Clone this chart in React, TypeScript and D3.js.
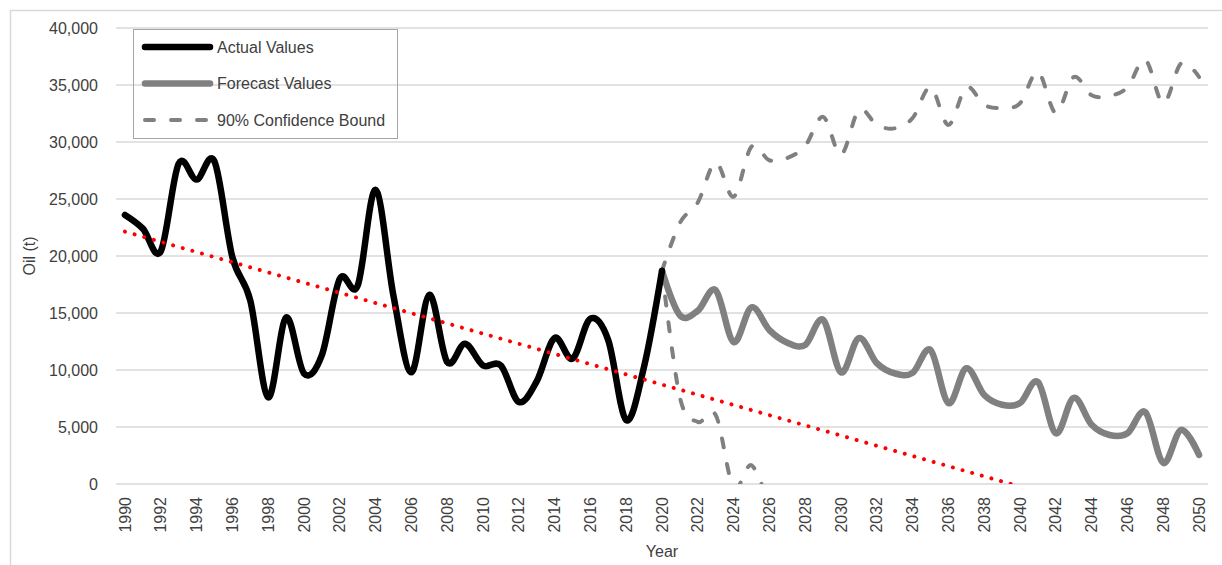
import React from "react";
import * as d3 from "d3";

// years on the category axis
const years: number[] = d3.range(1990, 2051);
const actualYears: number[] = d3.range(1990, 2021);
const forecastYears: number[] = d3.range(2020, 2051);
const lowerYears: number[] = d3.range(2020, 2027);

// Oil (t)
const actualValues: number[] = [
  23600, 22400, 20400, 28100, 26700, 28300, 19900, 16100, 7600, 14600,
  9700, 11300, 18000, 17400, 25800, 16500, 9800, 16600, 10700, 12300,
  10400, 10400, 7200, 9000, 12800, 11000, 14500, 12600, 5600, 10300,
  18700,
];

const forecastValues: number[] = [
  18700, 14800, 15200, 17000, 12450, 15500, 13500, 12400, 12200, 14400,
  9800, 12800, 10600, 9700, 9750, 11750, 7100, 10150, 7800, 6950,
  7100, 8950, 4450, 7550, 5200, 4300, 4450, 6300, 1850, 4750,
  2550,
];

const upperValues: number[] = [
  18700, 22900, 24700, 28200, 25200, 29600, 28400, 28600, 29650, 32200,
  28900, 32800, 31500, 31200, 32100, 34800, 31500, 34800, 33250, 33000,
  33400, 36150, 32550, 35700, 34100, 34050, 34800, 37200, 33400, 36900,
  35700,
];

const lowerValues: number[] = [18700, 7600, 5450, 6050, -300, 1650, -2000];

const yTicks: number[] = [0, 5000, 10000, 15000, 20000, 25000, 30000, 35000, 40000];
const xTickYears: number[] = years.filter((y) => (y - 1990) % 2 === 0);

const legendItems = [
  { label: "Actual Values", color: "#000000", width: 6.5, dash: null as string | null },
  { label: "Forecast Values", color: "#808080", width: 6.5, dash: null as string | null },
  { label: "90% Confidence Bound", color: "#808080", width: 4, dash: "9 17" },
];

const W = 1222;
const H = 565;
const plot = { left: 116, right: 1208, top: 28, bottom: 484 };
const font = "'Liberation Sans', Arial, sans-serif";
const textColor = "#404040";

const App: React.FC = () => {
  const x = d3
    .scalePoint<number>()
    .domain(years)
    .range([plot.left, plot.right])
    .padding(0.5);

  const y = d3.scaleLinear().domain([0, 40000]).range([plot.bottom, plot.top]);

  const smooth = d3
    .line<[number, number]>()
    .x((d) => x(d[0]) as number)
    .y((d) => y(d[1]))
    .curve(d3.curveCardinal.tension(0));

  const pairs = (ys: number[], vs: number[]): [number, number][] =>
    ys.map((yr, i) => [yr, vs[i]]);

  // linear trend of the actual values, projected to 2040
  const ts = actualYears.map((yr) => yr - 1990);
  const meanT = d3.mean(ts) as number;
  const meanV = d3.mean(actualValues) as number;
  const slope =
    d3.sum(ts, (t, i) => (t - meanT) * (actualValues[i] - meanV)) /
    d3.sum(ts, (t) => (t - meanT) ** 2);
  const intercept = meanV - slope * meanT;
  const trendYears = [1990, 2040];
  const trendPath = d3
    .line<number>()
    .x((yr) => x(yr) as number)
    .y((yr) => y(intercept + slope * (yr - 1990)))(trendYears);

  return (
    <div style={{ position: "absolute", left: 0, top: 0 }}>
      <svg width={W} height={H} style={{ display: "block", background: "#fff" }}>
        <defs>
          <clipPath id="plotClip">
            <rect x={plot.left} y={0} width={plot.right - plot.left + 20} height={plot.bottom} />
          </clipPath>
        </defs>

        {/* chart area border */}
        <rect x={10.5} y={10.5} width={1230} height={570} fill="none" stroke="#d9d9d9" strokeWidth={1.5} />

        {/* gridlines */}
        {yTicks.map((t) => (
          <line key={t} x1={plot.left} x2={plot.right} y1={y(t)} y2={y(t)} stroke="#d9d9d9" strokeWidth={1.5} />
        ))}

        {/* y tick labels */}
        {yTicks.map((t) => (
          <text
            key={"yl" + t}
            x={98}
            y={y(t)}
            dy="0.35em"
            textAnchor="end"
            fontFamily={font}
            fontSize={16}
            fill={textColor}
          >
            {d3.format(",")(t)}
          </text>
        ))}

        {/* x tick labels */}
        {xTickYears.map((yr) => (
          <text
            key={"xl" + yr}
            transform={`translate(${x(yr)},497) rotate(-90)`}
            dy="0.35em"
            textAnchor="end"
            fontFamily={font}
            fontSize={16}
            fill={textColor}
          >
            {yr}
          </text>
        ))}

        {/* axis titles */}
        <text x={(plot.left + plot.right) / 2} y={557} textAnchor="middle" fontFamily={font} fontSize={16} fill={textColor}>
          Year
        </text>
        <text
          transform={`translate(35,${(plot.top + plot.bottom) / 2}) rotate(-90)`}
          textAnchor="middle"
          fontFamily={font}
          fontSize={16}
          fill={textColor}
        >
          Oil (t)
        </text>

        <g clipPath="url(#plotClip)">
          <path
            d={smooth(pairs(forecastYears, upperValues)) || ""}
            fill="none"
            stroke="#808080"
            strokeWidth={4}
            strokeDasharray="9 17"
            strokeLinecap="round"
          />
          <path
            d={smooth(pairs(lowerYears, lowerValues)) || ""}
            fill="none"
            stroke="#808080"
            strokeWidth={4}
            strokeDasharray="9 17"
            strokeLinecap="round"
          />
          <path
            d={smooth(pairs(forecastYears, forecastValues)) || ""}
            fill="none"
            stroke="#808080"
            strokeWidth={6.5}
            strokeLinecap="round"
            strokeLinejoin="round"
          />
          <path
            d={smooth(pairs(actualYears, actualValues)) || ""}
            fill="none"
            stroke="#000000"
            strokeWidth={6.5}
            strokeLinecap="round"
            strokeLinejoin="round"
          />
          <path
            d={trendPath || ""}
            fill="none"
            stroke="#ff0000"
            strokeWidth={4}
            strokeDasharray="0.01 10"
            strokeLinecap="round"
          />
        </g>

        {/* legend */}
        <g>
          <rect x={133.5} y={29.5} width={264} height={109} fill="none" stroke="#a6a6a6" strokeWidth={1} />
          {legendItems.map((item, i) => {
            const ly = 47 + i * 36.5;
            return (
              <g key={item.label}>
                <line
                  x1={145}
                  x2={210}
                  y1={ly}
                  y2={ly}
                  stroke={item.color}
                  strokeWidth={item.width}
                  strokeLinecap="round"
                  strokeDasharray={item.dash || undefined}
                />
                <text x={217} y={ly} dy="0.35em" fontFamily={font} fontSize={16} fill={textColor}>
                  {item.label}
                </text>
              </g>
            );
          })}
        </g>
      </svg>
    </div>
  );
};

export default App;
